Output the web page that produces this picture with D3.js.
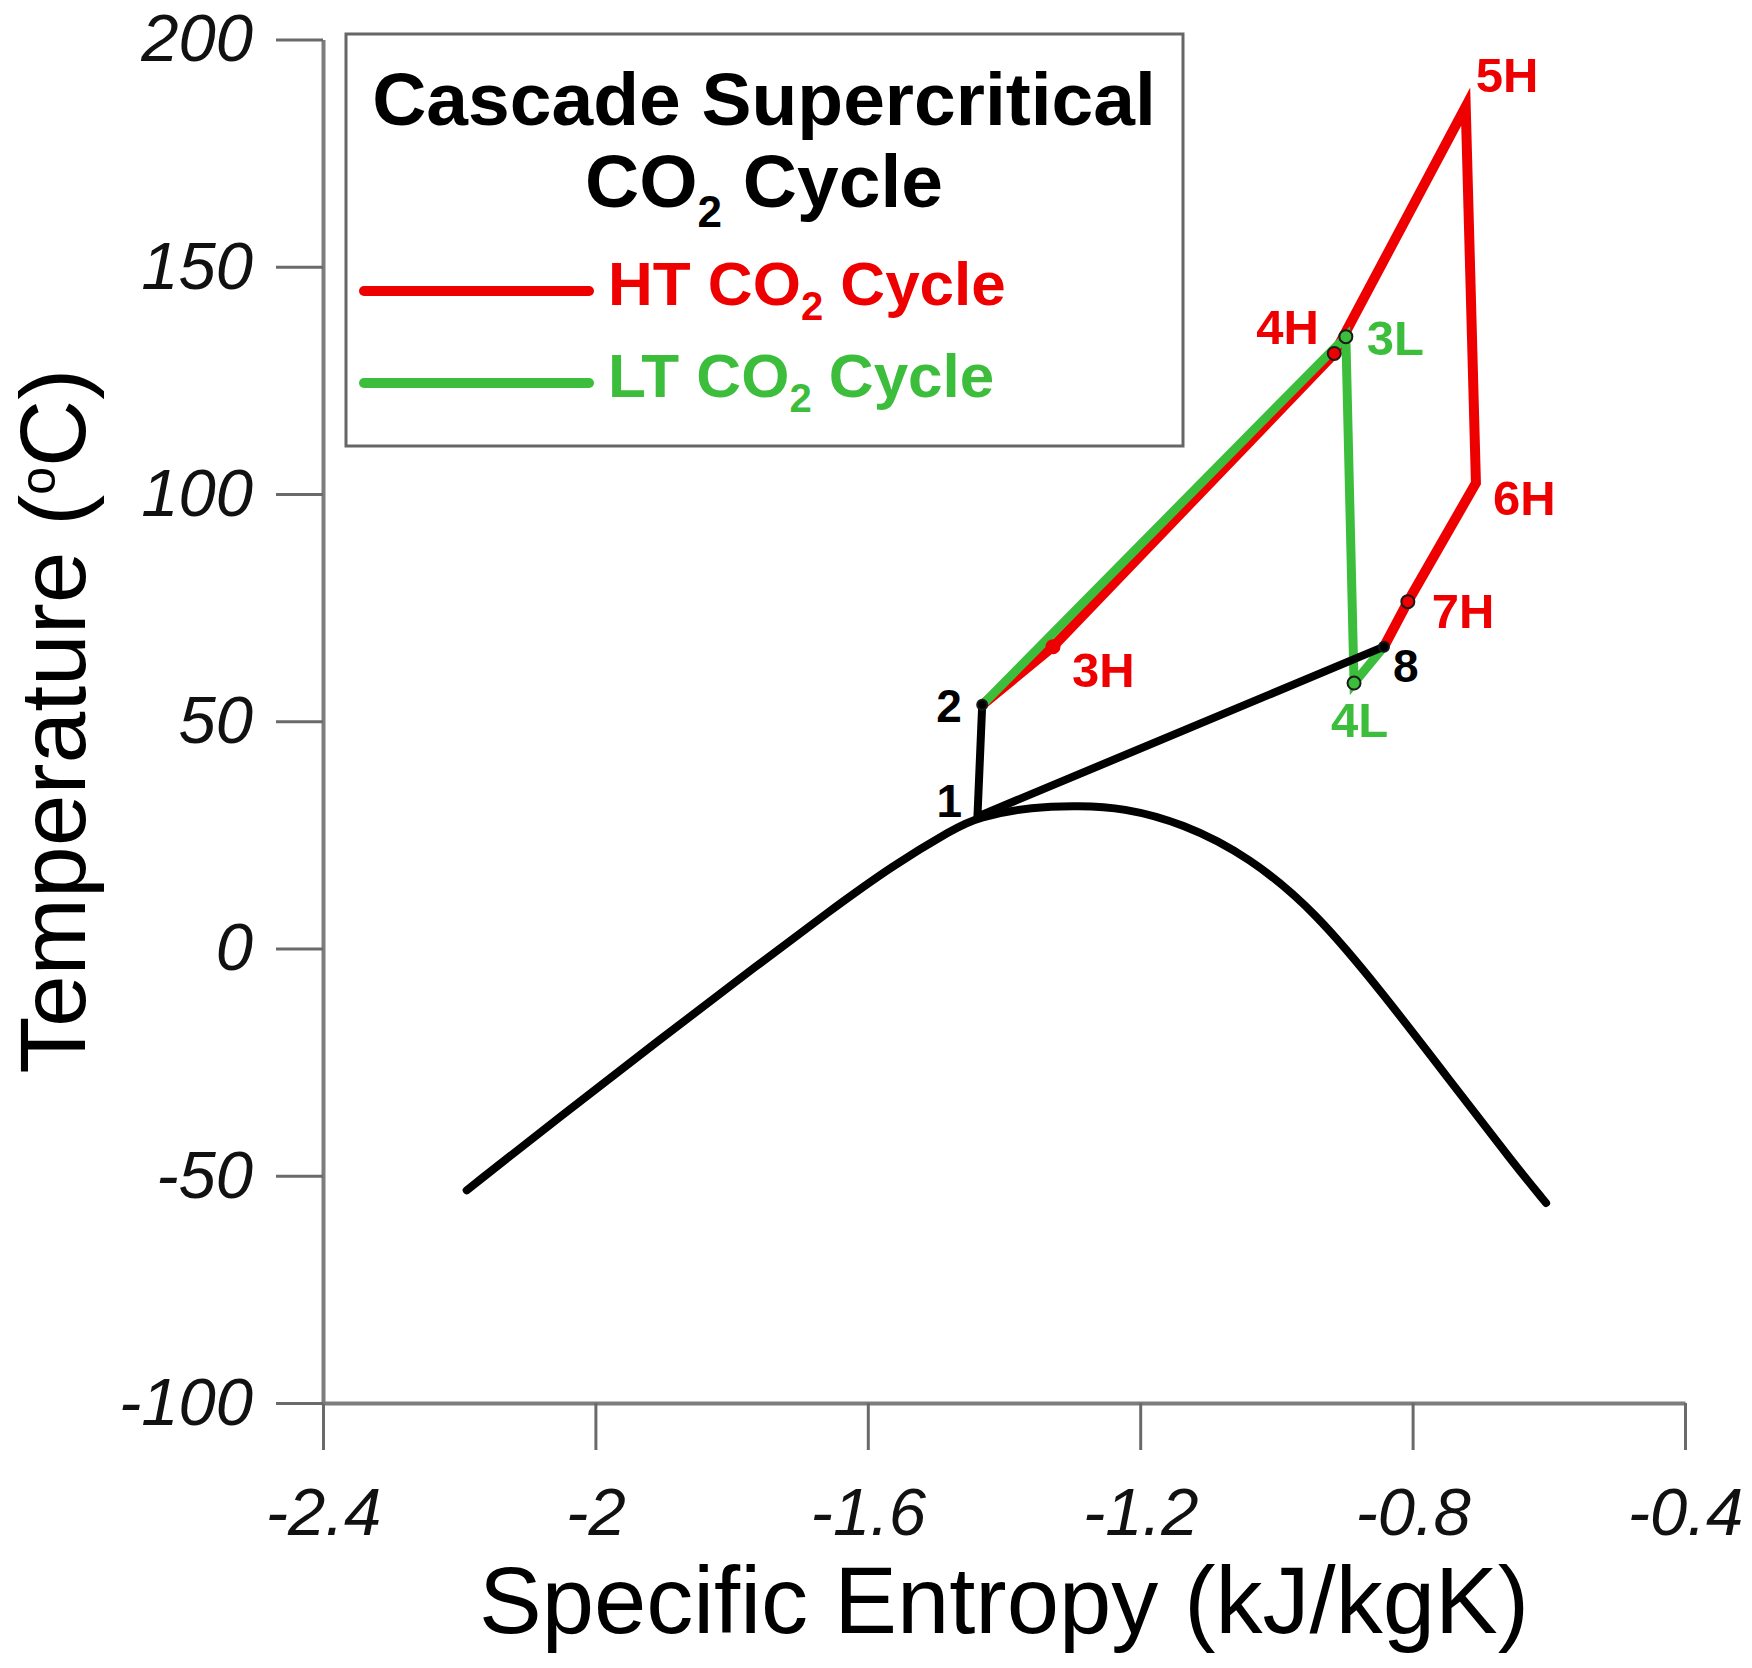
<!DOCTYPE html>
<html>
<head>
<meta charset="utf-8">
<script src="https://cdn.jsdelivr.net/npm/d3@7"></script>
<style>
    body { margin: 0; background: #fff; }
    svg { display: block; font-family: "Liberation Sans", Arial, sans-serif; }
    .axis .domain { stroke: #7d7d7d; stroke-width: 4; }
    .axis .tick line { stroke: #6a6a6a; stroke-width: 3; }
    .axis .tick text { font-size: 67px; font-style: italic; fill: #111; }
</style>
</head>
<body>
<svg id="chart" width="1752" height="1668"></svg>
<script>
// tick values
const xMajor = [-2.4, -2, -1.6, -1.2, -0.8, -0.4];
const xMinor = [-2.2, -1.8, -1.4, -1.0, -0.6];
const yMajor = [200, 150, 100, 50, 0, -50, -100];
const yMinor = [175, 125, 75, 25, -25, -75];

// saturation dome
const domeS = [-2.189, -2.052, -1.905, -1.758, -1.660, -1.563, -1.474, -1.439, -1.357, -1.290, -1.226, -1.138, -1.040, -0.942, -0.844, -0.746, -0.648, -0.604];
const domeT = [-53.2, -37.0, -20.0, -3.2, 7.8, 18.3, 26.3, 28.9, 31.2, 31.4, 31.0, 27.6, 20.2, 8.0, -9.8, -28.9, -48.0, -56.0];

// state points
const pointNames = ["1", "2", "3H", "4H", "5H", "6H", "7H", "8", "3L", "4L"];
const pointS = [-1.439, -1.432, -1.328, -0.915, -0.722, -0.707, -0.807, -0.842, -0.898, -0.886];
const pointT = [29.0, 53.6, 66.4, 130.9, 185.2, 102.4, 76.3, 66.4, 134.6, 58.4];

// process order of each cycle
const htPath = ["2", "3H", "4H", "5H", "6H", "7H", "8"];
const ltPath = ["2", "3L", "4L", "8"];
const sharedPath = ["8", "1", "2"];

const legendNames = ["HT", "LT"];

const RED = "#ee0000", GREEN = "#3cbe3c", BLACK = "#000";

const margin = {left: 323, top: 39.4, right: 67, bottom: 265};
const W = 1752, H = 1668;

const svg = d3.select("#chart");

const x = d3.scaleLinear().domain([-2.4, -0.4]).range([margin.left, W - margin.right]);
const y = d3.scaleLinear().domain([-100, 200]).range([H - margin.bottom, margin.top]);

const pts = {};
pointNames.forEach((n, i) => { pts[n] = {s: pointS[i], t: pointT[i]}; });

// axes
const xAxisG = svg.append("g").attr("class", "axis").attr("transform", "translate(0," + y(-100) + ")");
xAxisG.call(d3.axisBottom(x).tickValues(xMinor).tickSize(24).tickSizeOuter(0).tickFormat(""));
xAxisG.call(d3.axisBottom(x).tickValues(xMajor).tickSize(47).tickSizeOuter(0).tickPadding(37).tickFormat(d => String(d)));

const yAxisG = svg.append("g").attr("class", "axis").attr("transform", "translate(" + x(-2.4) + ",0)");
yAxisG.call(d3.axisLeft(y).tickValues(yMinor).tickSize(24).tickSizeOuter(0).tickFormat(""));
yAxisG.call(d3.axisLeft(y).tickValues(yMajor).tickSize(47).tickSizeOuter(0).tickPadding(23).tickFormat(d => String(d)));

// axis titles
svg.append("text")
    .attr("x", (x(-2.4) + x(-0.4)) / 2).attr("y", 1633)
    .attr("text-anchor", "middle")
    .style("font-size", "94px")
    .text("Specific Entropy (kJ/kgK)");

const yTitle = svg.append("text")
    .attr("transform", "translate(85," + (y(-100) + y(200)) / 2 + ") rotate(-90)")
    .attr("text-anchor", "middle")
    .style("font-size", "93px");
yTitle.append("tspan").text("Temperature (");
yTitle.append("tspan").attr("dy", -30).style("font-size", "50px").text("o");
yTitle.append("tspan").attr("dy", 30).text("C)");

// dome
const domeData = domeS.map((s, i) => ({s: s, t: domeT[i]}));
const curveLine = d3.line().x(d => x(d.s)).y(d => y(d.t)).curve(d3.curveBasis);
const straight = d3.line().x(d => x(d.s)).y(d => y(d.t));

svg.append("path").datum(domeData)
    .attr("d", curveLine)
    .attr("fill", "none").attr("stroke", BLACK).attr("stroke-width", 8)
    .attr("stroke-linecap", "round");

// cycles
function drawPath(names, color, width) {
    svg.append("path").datum(names.map(n => pts[n]))
        .attr("d", straight)
        .attr("fill", "none")
        .attr("stroke", color)
        .attr("stroke-width", width)
        .attr("stroke-linejoin", "miter");
}
drawPath(htPath, RED, 10);
drawPath(ltPath, GREEN, 9);
drawPath(sharedPath, BLACK, 8);

// markers
const markerColor = {"2": BLACK, "8": BLACK, "3H": RED, "4H": RED, "7H": RED, "3L": GREEN, "4L": GREEN};
Object.keys(markerColor).forEach(n => {
    svg.append("circle")
        .attr("cx", x(pts[n].s)).attr("cy", y(pts[n].t))
        .attr("r", n === "2" || n === "8" ? 5 : 6.5)
        .attr("fill", markerColor[n])
        .attr("stroke", n === "3H" ? RED : "#1a1a1a")
        .attr("stroke-width", 2);
});

// point labels, offsets in px from the point
const labelOffset = {
    "1": [-41, 0], "2": [-46, 17], "3H": [19, 40], "4H": [-78, -9], "5H": [10, -15],
    "6H": [17, 32], "7H": [24, 26], "8": [9, 35], "3L": [21, 18], "4L": [-23, 54]
};
const labelColor = {"1": BLACK, "2": BLACK, "8": BLACK, "3L": GREEN, "4L": GREEN};
pointNames.forEach(n => {
    const col = labelColor[n] || RED;
    svg.append("text")
        .attr("x", x(pts[n].s) + labelOffset[n][0])
        .attr("y", y(pts[n].t) + labelOffset[n][1])
        .style("font-size", col === BLACK ? "46px" : "49px")
        .style("font-weight", "bold")
        .attr("fill", col)
        .text(n);
});

// legend
const lg = svg.append("g");
lg.append("rect")
    .attr("x", 346).attr("y", 34).attr("width", 837).attr("height", 412)
    .attr("fill", "#fff").attr("stroke", "#666").attr("stroke-width", 3);

lg.append("text").attr("x", 764).attr("y", 125).attr("text-anchor", "middle")
    .style("font-size", "75px").style("font-weight", "bold")
    .text("Cascade Supercritical");
const t2 = lg.append("text").attr("x", 764).attr("y", 207).attr("text-anchor", "middle")
    .style("font-size", "75px").style("font-weight", "bold");
t2.append("tspan").text("CO");
t2.append("tspan").attr("dy", 20).style("font-size", "44px").text("2");
t2.append("tspan").attr("dy", -20).text(" Cycle");

[RED, GREEN].forEach((col, i) => {
    const ly = 291 + i * 92;
    lg.append("line")
        .attr("x1", 364).attr("x2", 589).attr("y1", ly).attr("y2", ly)
        .attr("stroke", col).attr("stroke-width", 10).attr("stroke-linecap", "round");
    const tx = lg.append("text").attr("x", 608).attr("y", ly + 14)
        .style("font-size", "62px").style("font-weight", "bold").attr("fill", col);
    tx.append("tspan").text(legendNames[i] + " CO");
    tx.append("tspan").attr("dy", 15).style("font-size", "40px").text("2");
    tx.append("tspan").attr("dy", -15).text(" Cycle");
});
</script>
</body>
</html>
